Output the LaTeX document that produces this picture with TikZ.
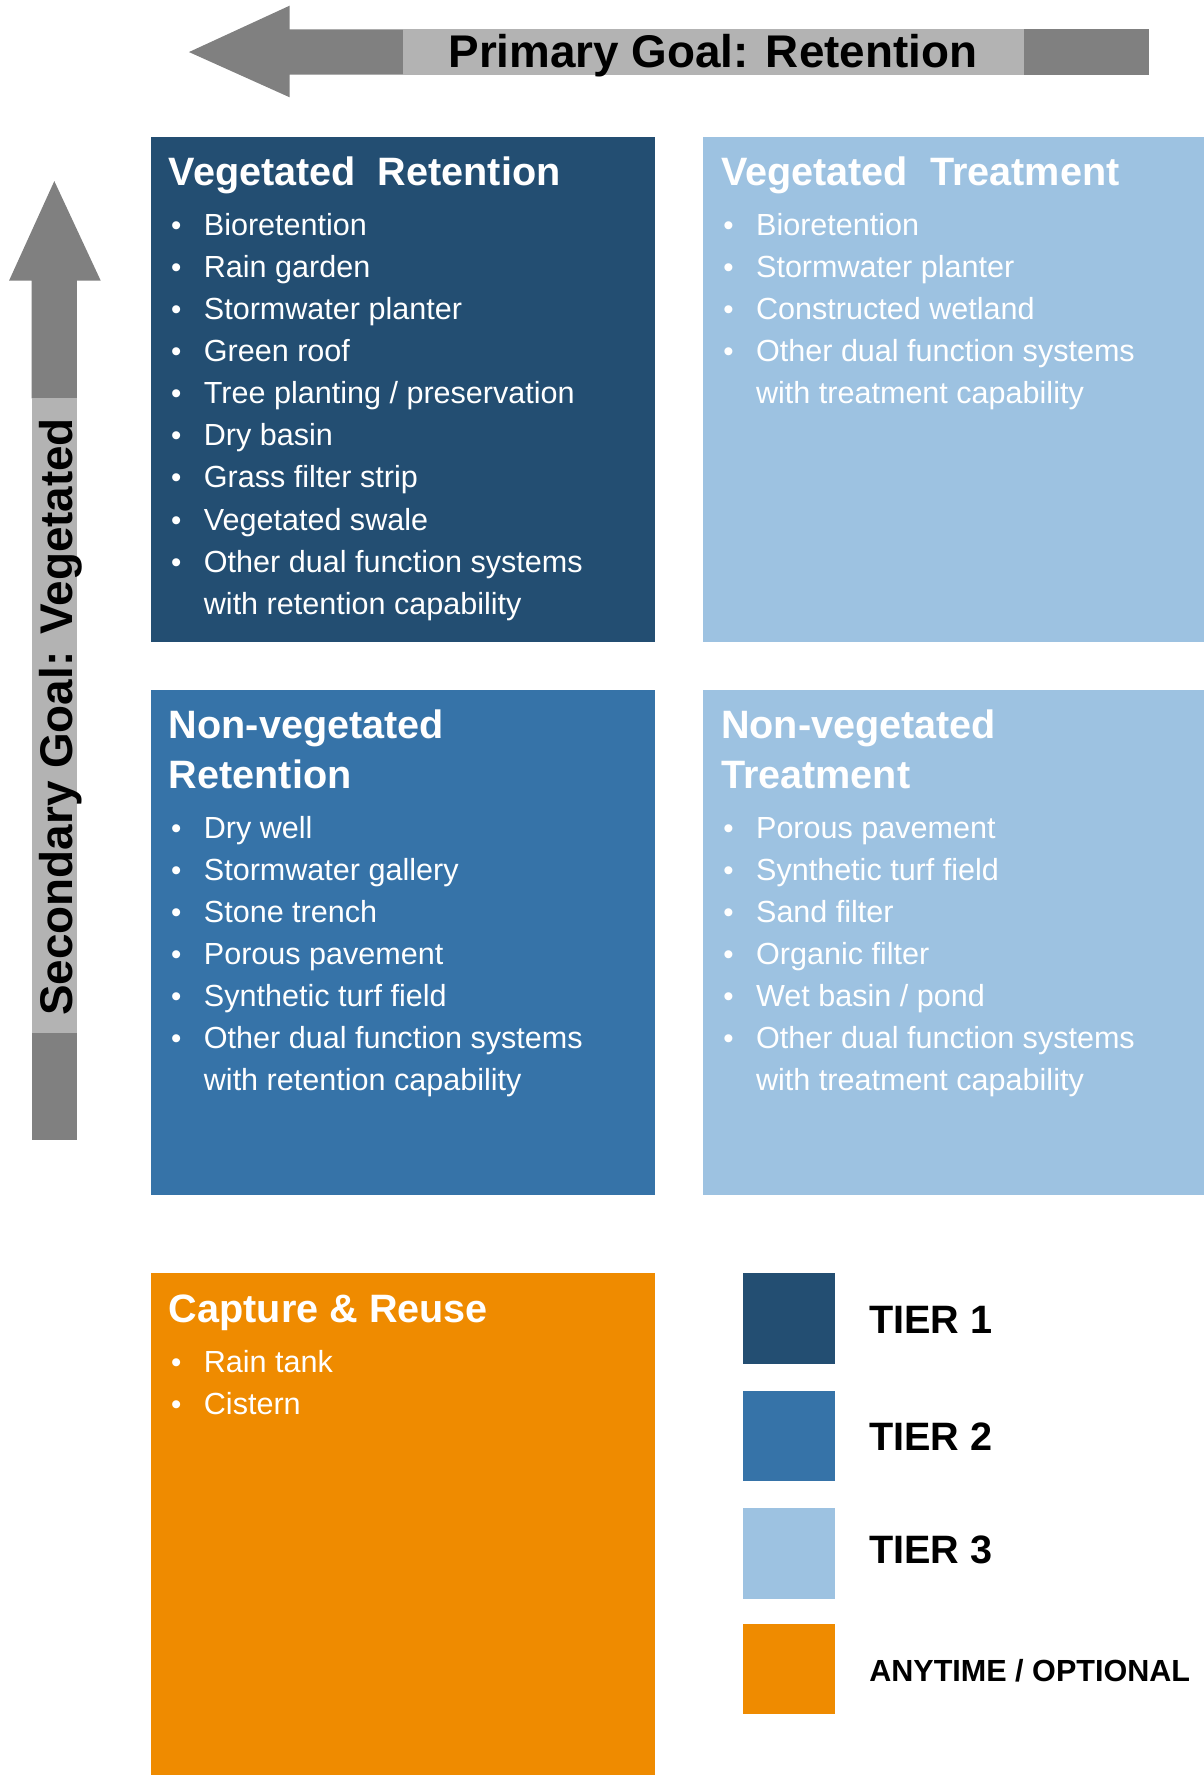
\documentclass[tikz,border=0pt]{standalone}
\usepackage{fontspec}
\setmainfont{Liberation Sans}
\definecolor{tierone}{HTML}{234E72}
\definecolor{tiertwo}{HTML}{3673A8}
\definecolor{tierthree}{HTML}{9DC2E1}
\definecolor{anytime}{HTML}{EF8B00}
\definecolor{arrdark}{HTML}{808080}
\definecolor{arrlight}{HTML}{B3B3B3}
\tikzset{
  box/.style={fill=#1, draw=none, inner sep=0pt, outer sep=0pt, anchor=north west},
  ttl/.style={anchor=base west, text=white, inner sep=0pt, font=\fontsize{35}{44}\selectfont\bfseries},
  itm/.style={anchor=base west, text=white, inner sep=0pt, font=\fontsize{27}{37}\selectfont},
  bul/.style={anchor=base west, text=white, inner sep=0pt, font=\fontsize{26}{37}\selectfont},
  goal/.style={inner sep=0pt, text=black, font=\fontsize{40.5}{48}\selectfont\bfseries},
  legtxt/.style={anchor=base west, inner sep=0pt, text=black, font=\fontsize{35}{40}\selectfont\bfseries},
  legsmall/.style={anchor=base west, inner sep=0pt, text=black, font=\fontsize{27}{32}\selectfont\bfseries}
}
\newcommand\bulletlist[4]{%
  \foreach \t [count=\i from 0] in {#4} {
    \node[bul] (#1b\i) at (#2, #3+37.2*\i) {\textbullet};
    \node[itm] (#1i\i) at (#2+29, #3+37.2*\i) {\t};
  }%
}
\begin{document}
\begin{tikzpicture}[x=1pt,y=-1pt]
\useasboundingbox (0,0) rectangle (1064,1568.6);
% top arrow
\fill[arrdark] (167,46) -- (256,5) -- (256,26) -- (356,26) -- (356,66) -- (256,66) -- (256,86) -- cycle;
\fill[arrlight] (356,26) rectangle (905,66);
\fill[arrdark] (905,26) rectangle (1015,66);
\node[goal, anchor=base] (primary) at (630,60) {Primary Goal: Retention};
% left arrow
\fill[arrdark] (48,160) -- (89,248) -- (68,248) -- (68,352) -- (28,352) -- (28,248) -- (8,248) -- cycle;
\fill[arrlight] (28,352) rectangle (68,913);
\fill[arrdark] (28,913) rectangle (68,1007);
\node[goal, anchor=base, rotate=90] (secondary) at (64,633.5) {Secondary Goal: Vegetated};
% boxes
\node[box=tierone, minimum width=446, minimum height=446] (vr) at (133,121) {};
\node[box=tierthree, minimum width=443, minimum height=446] (vt) at (621,121) {};
\node[box=tiertwo, minimum width=446, minimum height=446] (nvr) at (133,610) {};
\node[box=tierthree, minimum width=443, minimum height=446] (nvt) at (621,610) {};
\node[box=anytime, minimum width=446, minimum height=443.6] (cr) at (133,1125) {};
% vegetated retention
\node[ttl] (vrt) at (149,163.5) {Vegetated\ \ Retention};
\bulletlist{vr}{151}{208}{Bioretention, Rain garden, Stormwater planter, Green roof, Tree planting / preservation, Dry basin, Grass filter strip, Vegetated swale, Other dual function systems}
\node[itm] (vrc) at (180,543) {with retention capability};
% vegetated treatment
\node[ttl] (vtt) at (637,163.5) {Vegetated\ \ Treatment};
\bulletlist{vt}{639}{208}{Bioretention, Stormwater planter, Constructed wetland, Other dual function systems}
\node[itm] (vtc) at (668,357) {with treatment capability};
% non-vegetated retention
\node[ttl] (nvrt1) at (149,652.5) {Non-vegetated};
\node[ttl] (nvrt2) at (149,696.5) {Retention};
\bulletlist{nvr}{151}{741}{Dry well, Stormwater gallery, Stone trench, Porous pavement, Synthetic turf field, Other dual function systems}
\node[itm] (nvrc) at (180,964) {with retention capability};
% non-vegetated treatment
\node[ttl] (nvtt1) at (637,652.5) {Non-vegetated};
\node[ttl] (nvtt2) at (637,696.5) {Treatment};
\bulletlist{nvt}{639}{741}{Porous pavement, Synthetic turf field, Sand filter, Organic filter, Wet basin / pond, Other dual function systems}
\node[itm] (nvtc) at (668,964) {with treatment capability};
% capture & reuse
\node[ttl] (crt) at (149,1168.5) {Capture \& Reuse};
\bulletlist{cr}{151}{1213}{Rain tank, Cistern}
% legend
\node[box=tierone, minimum width=81, minimum height=80] (l1) at (657,1125) {};
\node[box=tiertwo, minimum width=81, minimum height=80] (l2) at (657,1229) {};
\node[box=tierthree, minimum width=81, minimum height=80] (l3) at (657,1333) {};
\node[box=anytime, minimum width=81, minimum height=80] (l4) at (657,1435) {};
\node[legtxt] (t1) at (768,1178) {TIER 1};
\node[legtxt] (t2) at (768,1282) {TIER 2};
\node[legtxt] (t3) at (768,1382) {TIER 3};
\node[legsmall] (t4) at (768,1486) {ANYTIME / OPTIONAL};
\end{tikzpicture}
\end{document}
